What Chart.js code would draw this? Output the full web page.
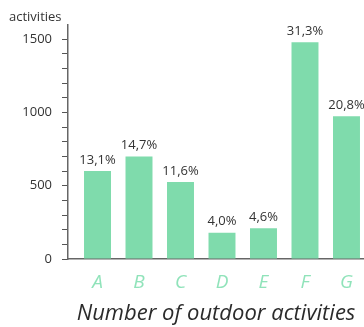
<!DOCTYPE html>
<html>
<head>
<meta charset="utf-8">
<script src="https://cdn.jsdelivr.net/npm/chart.js@4.4.1/dist/chart.umd.min.js"></script>
<style>
    html, body { margin: 0; padding: 0; background: #fff; overflow: hidden; }
    #wrap { width: 364px; height: 327px; position: relative; }
</style>
</head>
<body>
<div id="wrap"><canvas id="activitiesChart"></canvas></div>
<script>
const categories = ['A', 'B', 'C', 'D', 'E', 'F', 'G'];
const activityCounts = [600, 700, 525, 180, 210, 1480, 975];
const shareLabels = ['13,1%', '14,7%', '11,6%', '4,0%', '4,6%', '31,3%', '20,8%'];
const yTickLabels = [0, 500, 1000, 1500];

const FONT = '"Open Sans", "Noto Sans", sans-serif';

// percentages above each bar
const shareLabelPlugin = {
    id: 'shareLabels',
    afterDatasetsDraw(chart) {
        const ctx = chart.ctx;
        const meta = chart.getDatasetMeta(0);
        ctx.save();
        ctx.font = '13px ' + FONT;
        ctx.fillStyle = '#333';
        ctx.textAlign = 'center';
        ctx.textBaseline = 'alphabetic';
        meta.data.forEach((bar, i) => {
            ctx.fillText(shareLabels[i], bar.x, bar.y - 7.5);
        });
        ctx.restore();
    }
};

const ctx = document.getElementById('activitiesChart');
new Chart(ctx, {
    type: 'bar',
    data: {
        datasets: [{
            label: 'activities',
            data: activityCounts.map((v, i) => ({x: i, y: v})),
            backgroundColor: '#7fdbac',
            categoryPercentage: 1,
            barPercentage: 0.65
        }]
    },
    options: {
        responsive: true,
        maintainAspectRatio: false,
        animation: false,
        layout: {padding: {left: 9, right: 0, top: 0, bottom: 0}},
        plugins: {
            legend: {display: false},
            tooltip: {enabled: false},
            title: {
                display: true,
                text: 'activities',
                align: 'start',
                color: '#333',
                font: {family: FONT, size: 13, weight: 'normal', lineHeight: 1.2},
                padding: {top: 9, bottom: 0}
            }
        },
        scales: {
            x: {
                type: 'linear',
                offset: false,
                min: -0.711,
                max: 6.422,
                afterBuildTicks: s => {
                    s.ticks = categories.map((c, i) => ({value: i}));
                },
                afterFit: s => { s.height = 68; },
                grid: {display: false},
                border: {display: true, color: '#666', width: 1.5},
                ticks: {
                    autoSkip: false,
                    maxRotation: 0,
                    padding: 4,
                    color: '#90e3ba',
                    font: {family: FONT, size: 19, style: 'italic', lineHeight: 1.2},
                    callback: v => categories[v]
                },
                title: {
                    display: true,
                    text: 'Number of outdoor activities',
                    color: '#2b2b2b',
                    font: {family: FONT, size: 22, style: 'italic', lineHeight: 1.2},
                    padding: {top: 0, bottom: 0}
                }
            },
            y: {
                min: 0,
                max: 1600,
                afterFit: s => { s.width = 59; },
                grid: {
                    display: true,
                    drawOnChartArea: false,
                    drawTicks: true,
                    tickLength: 6,
                    color: '#555',
                    lineWidth: 1
                },
                border: {display: true, color: '#666', width: 1.5},
                ticks: {
                    stepSize: 100,
                    autoSkip: false,
                    padding: 10,
                    color: '#333',
                    font: {family: FONT, size: 13},
                    callback: v => {
                        if (v > yTickLabels[yTickLabels.length - 1]) return null;
                        return yTickLabels.includes(v) ? String(v) : '';
                    }
                }
            }
        }
    },
    plugins: [shareLabelPlugin]
});
</script>
</body>
</html>
